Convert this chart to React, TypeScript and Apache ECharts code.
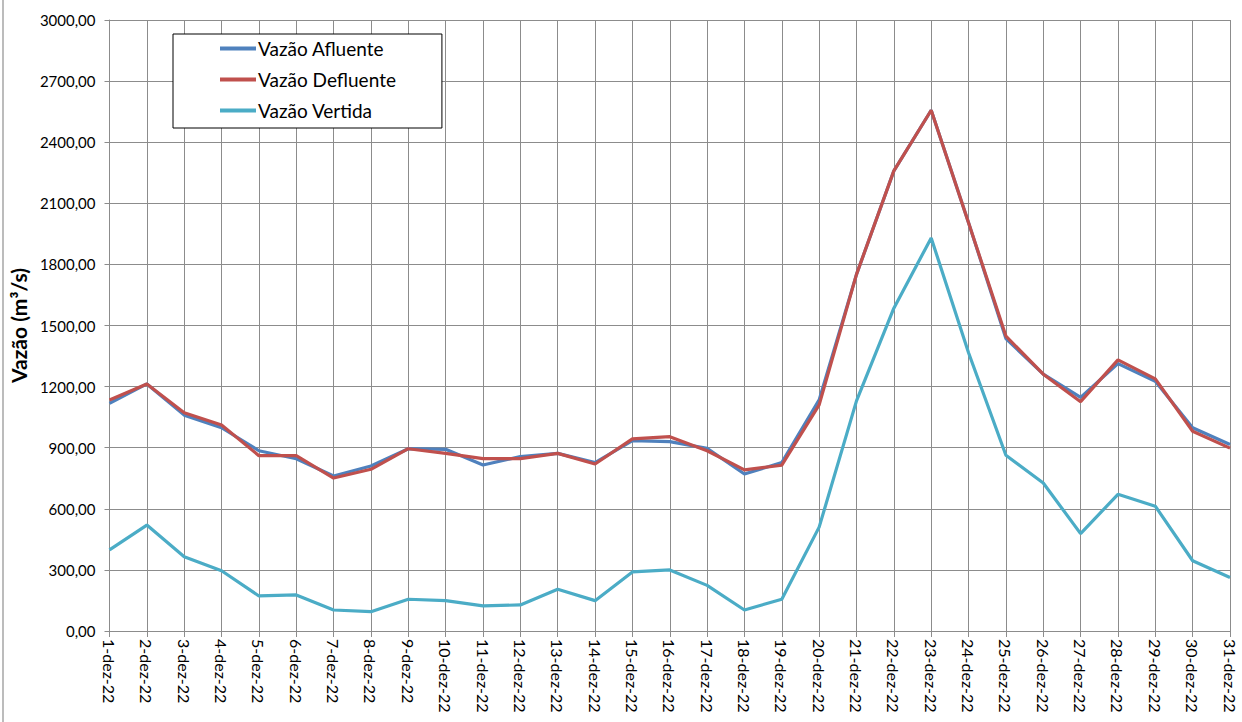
import React, { useEffect, useRef } from "react";
import * as echarts from "echarts";

const categories: string[] = [
  "1-dez-22", "2-dez-22", "3-dez-22", "4-dez-22", "5-dez-22", "6-dez-22", "7-dez-22", "8-dez-22",
  "9-dez-22", "10-dez-22", "11-dez-22", "12-dez-22", "13-dez-22", "14-dez-22", "15-dez-22", "16-dez-22",
  "17-dez-22", "18-dez-22", "19-dez-22", "20-dez-22", "21-dez-22", "22-dez-22", "23-dez-22", "24-dez-22",
  "25-dez-22", "26-dez-22", "27-dez-22", "28-dez-22", "29-dez-22", "30-dez-22", "31-dez-22",
];

const vazaoAfluente: number[] = [
  1118, 1213, 1060, 998, 885, 846, 761, 810, 895, 892, 815, 856, 872, 827, 935, 930,
  897, 771, 827, 1135, 1751, 2259, 2557, 2005, 1436, 1261, 1147, 1313, 1226, 998, 916,
];

const vazaoDefluente: number[] = [
  1134, 1213, 1072, 1011, 861, 861, 751, 794, 895, 872, 846, 846, 872, 820, 943, 954,
  885, 791, 814, 1110, 1751, 2259, 2557, 2005, 1448, 1261, 1126, 1331, 1238, 981, 898,
];

const vazaoVertida: number[] = [
  398, 520, 365, 296, 172, 177, 103, 95, 156, 149, 123, 128, 205, 149, 290, 300,
  224, 103, 156, 510, 1130, 1585, 1930, 1366, 863, 727, 478, 671, 613, 345, 263,
];

const seriesNames: string[] = ["Vazão Afluente", "Vazão Defluente", "Vazão Vertida"];
const seriesColors: string[] = ["#4F81BD", "#C0504D", "#4BACC6"];

export default function App() {
  const ref = useRef<HTMLDivElement>(null);

  useEffect(() => {
    if (!ref.current) return;
    const chart = echarts.init(ref.current, null, { renderer: "svg" });
    const font = "Lato, 'Open Sans', sans-serif";
    const dataSets = [vazaoAfluente, vazaoDefluente, vazaoVertida];
    chart.setOption({
      animation: false,
      backgroundColor: "#ffffff",
      textStyle: { fontFamily: font },
      grid: { left: 107, right: 12, top: 20, bottom: 91, containLabel: false },
      legend: {
        orient: "vertical",
        left: 173,
        top: 34,
        padding: [5, 46, 8, 47],
        itemGap: 12,
        itemWidth: 36,
        itemHeight: 4,
        icon: "rect",
        borderColor: "#000000",
        borderWidth: 1,
        borderRadius: 0,
        backgroundColor: "#ffffff",
        textStyle: { fontSize: 19, color: "#000000", fontFamily: font, padding: [0, 0, 0, -3] },
        data: seriesNames,
      },
      xAxis: {
        type: "category",
        data: categories,
        boundaryGap: false,
        axisLine: { lineStyle: { color: "#8c8c8c", width: 1 } },
        axisTick: { show: true, alignWithLabel: true, length: 6, lineStyle: { color: "#8c8c8c" } },
        splitLine: { show: true, lineStyle: { color: "#8c8c8c", width: 1 } },
        axisLabel: {
          rotate: -90,
          interval: 0,
          fontSize: 16,
          color: "#000000",
          margin: 8,
          fontFamily: font,
        },
      },
      yAxis: {
        type: "value",
        min: 0,
        max: 3000,
        interval: 300,
        name: "Vazão (m³/s)",
        nameLocation: "middle",
        nameGap: 74,
        nameTextStyle: { fontSize: 21, fontWeight: "bold", color: "#000000", fontFamily: font },
        axisLine: { show: true, lineStyle: { color: "#8c8c8c", width: 1 } },
        axisTick: { show: true, length: 5, lineStyle: { color: "#8c8c8c" } },
        splitLine: { show: true, lineStyle: { color: "#8c8c8c", width: 1 } },
        axisLabel: {
          fontSize: 15,
          color: "#000000",
          margin: 14,
          fontFamily: font,
          formatter: (v: number) => v.toFixed(2).replace(".", ","),
        },
      },
      graphic: [
        {
          type: "line",
          shape: { x1: 3, y1: 0, x2: 3, y2: 722 },
          style: { stroke: "#a6a6a6", lineWidth: 1.5 },
          silent: true,
        },
      ],
      series: dataSets.map((d, i) => ({
        name: seriesNames[i],
        type: "line",
        data: d,
        symbol: "none",
        color: seriesColors[i],
        lineStyle: { color: seriesColors[i], width: 3.2 },
        z: 2 + i,
      })),
    });
    return () => chart.dispose();
  }, []);

  return (
    <div
      ref={ref}
      style={{ position: "fixed", left: 0, top: 0, width: 1242, height: 722 }}
    />
  );
}
